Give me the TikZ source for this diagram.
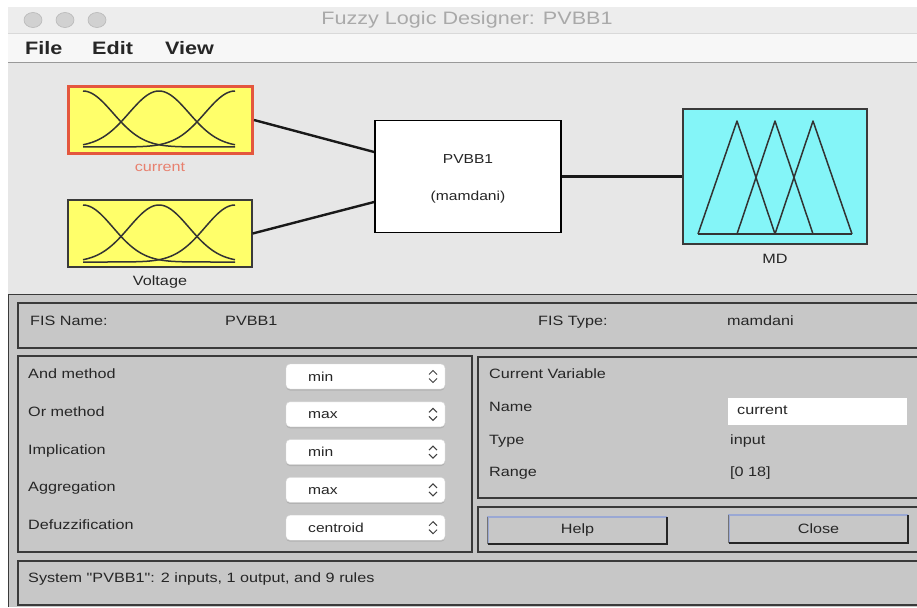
\documentclass[tikz,border=0pt]{standalone}
\usepackage{fontspec}
\setmainfont[FakeStretch=1.2]{Liberation Sans}
\newfontfamily\plainui[FakeStretch=1.2,Ligatures=TeXOff]{Liberation Sans}
\usetikzlibrary{calc}

\definecolor{winbg}{HTML}{E7E7E7}
\definecolor{panelbg}{HTML}{C7C7C7}
\definecolor{titlebg}{HTML}{EDEDED}
\definecolor{menubg}{HTML}{F7F7F7}
\definecolor{mfyellow}{HTML}{FFFF6A}
\definecolor{selred}{HTML}{E4573E}
\definecolor{mdcyan}{HTML}{84F5F8}
\definecolor{frameline}{HTML}{3A3A3A}
\definecolor{uitext}{HTML}{262626}
\definecolor{titletext}{HTML}{A9A9A9}
\definecolor{curlabel}{HTML}{E8806E}
\definecolor{btnlight}{HTML}{9AA8D4}

\tikzset{
  mfbox/.style={draw=frameline, line width=1.3pt, fill=mfyellow, inner sep=0pt},
  panel/.style={draw=frameline, line width=1.3pt, fill=panelbg},
  lbl/.style={font=\fontsize{13.5}{16}\selectfont, text=uitext, inner sep=0pt,
              text height=9.5pt, text depth=2.5pt, anchor=west},
  clbl/.style={lbl, anchor=center},
  menuitem/.style={font=\bfseries\fontsize{18}{20}\selectfont, text=black!85,
              inner sep=0pt, anchor=west, text height=13pt, text depth=0pt},
  popup/.style={rounded corners=4pt, fill=white, draw=white!85!black, line width=0.4pt,
              minimum width=159pt, minimum height=25pt, inner sep=0pt},
  mfcurve/.style={draw=black!80, line width=1.5pt},
  wire/.style={draw=black!90, line width=2.4pt},
  chev/.style={draw=black!75, line width=1pt},
}

\begin{document}
\begin{tikzpicture}[x=1pt,y=-1pt]
\useasboundingbox (0,0) rectangle (917,607);
\clip (0,0) rectangle (917,607);
\fill[white] (0,0) rectangle (917,607);

% window chrome: title bar and menu bar
\fill[titlebg] (8,7) rectangle (917,33);
\draw[black!15] (8,33.5) -- (917,33.5);
\fill[menubg] (8,34) rectangle (917,62);
\draw[black!40, line width=1pt] (8,62.5) -- (917,62.5);
\foreach \cx in {33,65,97}
  \filldraw[fill=black!18, draw=black!28, line width=0.6pt] (\cx,20) ellipse (9 and 7.5);
\node[font=\fontsize{18}{20}\selectfont, text=titletext, inner sep=0pt] (title) at (467,20) {Fuzzy Logic Designer: PVBB1};
\node[menuitem] (mfile) at (25,48) {File};
\node[menuitem] (medit) at (92,48) {Edit};
\node[menuitem] (mview) at (165,48) {View};

% diagram area
\fill[winbg] (8,63) rectangle (917,294);

% input membership boxes
\node[mfbox, draw=selred, line width=3pt, minimum width=184pt, minimum height=67pt] (cur) at (160.5,120) {};
\begin{scope}[shift={(83,147)}]
  \foreach \c in {0,76,152}
    \draw[mfcurve] plot[domain=0:152, samples=70, smooth] (\x, {-56*exp(-0.5*((\x-\c)/30)^2)});
\end{scope}
\node[clbl, text=curlabel] (curname) at (160,168) {current};

\node[mfbox, minimum width=184pt, minimum height=67pt] (volt) at (160,233.5) {};
\begin{scope}[shift={(83,262)}]
  \foreach \c in {0,76,152}
    \draw[mfcurve] plot[domain=0:152, samples=70, smooth] (\x, {-57*exp(-0.5*((\x-\c)/30)^2)});
\end{scope}
\node[clbl] (voltname) at (160,282) {Voltage};

% rule block
\node[draw=black, line width=1.8pt, fill=white, minimum width=186pt, minimum height=112pt, inner sep=0pt] (rule) at (468,176.5) {};
\node[clbl, font=\fontsize{13}{16}\selectfont] (rulename) at (rule.center |- 0,160) {PVBB1};
\node[clbl, font=\fontsize{13}{16}\selectfont] (ruletype) at (rule.center |- 0,197) {(mamdani)};

% output membership box
\node[draw=frameline, line width=1.6pt, fill=mdcyan, minimum width=184pt, minimum height=135pt, inner sep=0pt] (md) at (775,176.5) {};
\draw[mfcurve, line join=round] (698,234) -- (737,121) -- (775,234);
\draw[mfcurve, line join=round] (737,234) -- (775,121) -- (813,234);
\draw[mfcurve, line join=round] (775,234) -- (813,121) -- (852,234);
\draw[mfcurve] (698,234) -- (852,234);
\node[clbl] (mdname) at (775,260) {MD};

% connectors
\draw[wire] (cur.east) -- ($(rule.west)+(0,-24.5)$);
\draw[wire] (volt.east) -- ($(rule.west)+(0,25.5)$);
\draw[wire] (rule.east) -- (md.west);

% lower control panel
\fill[panelbg] (8,294) rectangle (917,607);
\draw[frameline, line width=1.5pt] (8,294.5) -- (917,294.5);
\draw[frameline, line width=1.5pt] (8.5,294) -- (8.5,607);

\draw[panel] (18,303) rectangle (925,348);
\node[lbl] (fisname) at (30,322) {FIS Name:};
\node[lbl] (fisnameval) at (225,322) {PVBB1};
\node[lbl] (fistype) at (538,322) {FIS Type:};
\node[lbl] (fistypeval) at (727,322) {mamdani};

% method selectors
\draw[panel] (18,356) rectangle (472,552);
\foreach \i/\lab/\val in {0/And method/min, 1/Or method/max, 2/Implication/min, 3/Aggregation/max, 4/Defuzzification/centroid}{
  \pgfmathsetmacro\yc{376.5+37.8*\i}
  \node[lbl] (mlab\i) at (28,\yc-1.5) {\lab};
  \fill[black!30, rounded corners=4pt] (286,\yc-11.5) rectangle (445,\yc+14);
  \node[popup] (pop\i) at (365.5,\yc) {};
  \node[lbl, font=\fontsize{13}{16}\selectfont] (pval\i) at (308,\yc+1) {\val};
  \draw[chev] (429,\yc-2) -- (433,\yc-6) -- (437,\yc-2);
  \draw[chev] (429,\yc+2) -- (433,\yc+6) -- (437,\yc+2);
}

% current variable
\draw[panel] (478,357) rectangle (925,498);
\node[lbl] (cvtitle) at (489,375) {Current Variable};
\node[lbl] (cvname) at (489,408) {Name};
\node[lbl] (cvtype) at (489,441) {Type};
\node[lbl] (cvrange) at (489,473) {Range};
\node[fill=white, minimum width=179pt, minimum height=27pt, inner sep=0pt] (namefield) at (817.5,411.5) {};
\node[lbl] (namefieldtext) at (737,411) {current};
\node[lbl] (typeval) at (730,441) {input};
\node[lbl] (rangeval) at (730,473) {[0 18]};

% buttons
\draw[panel] (478,507) rectangle (925,552);
\node[fill=panelbg, minimum width=179pt, minimum height=27pt, inner sep=0pt, font=\fontsize{13.5}{16}\selectfont, text=uitext] (help) at (577.5,530.5) {Help};
\node[fill=panelbg, minimum width=179pt, minimum height=28pt, inner sep=0pt, font=\fontsize{13.5}{16}\selectfont, text=uitext] (close) at (818.5,529) {Close};
\foreach \b in {help,close}{
  \draw[btnlight, line width=1.5pt] (\b.south west) -- (\b.north west) -- (\b.north east);
  \draw[black!85, line width=2pt] (\b.north east) -- (\b.south east) -- (\b.south west);
  \draw[black!55, line width=1pt] (\b.south west) -- (\b.north west);
}

% status line
\draw[panel] (18,561) rectangle (925,605);
\node[lbl, font=\plainui\fontsize{13.5}{16}\selectfont] (status) at (28,579) {System "PVBB1": 2 inputs, 1 output, and 9 rules};
\end{tikzpicture}
\end{document}
